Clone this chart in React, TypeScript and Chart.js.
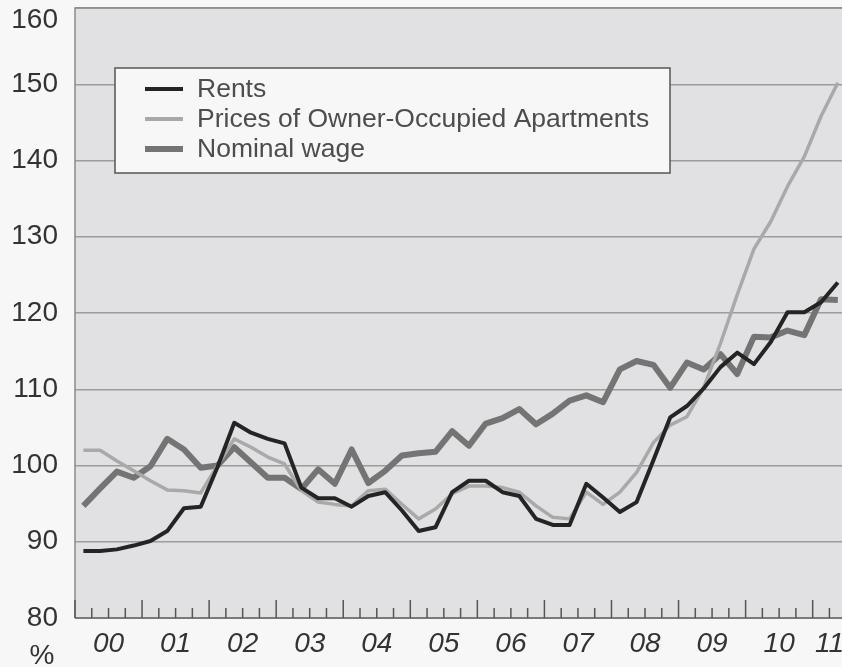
import React, { useEffect, useRef } from "react";
import { Chart, registerables } from "chart.js";

Chart.register(...registerables);

// Quarterly index values, 2000 Q1 – 2011 Q2
const yearLabels = ["00", "01", "02", "03", "04", "05", "06", "07", "08", "09", "10", "11"];

const rents = [
  88.8, 88.8, 89.0, 89.5, 90.1, 91.4, 94.4, 94.6, 99.8, 105.6,
  104.3, 103.5, 102.9, 97.1, 95.7, 95.7, 94.6, 96.0, 96.5, 94.1,
  91.4, 91.9, 96.5, 98.0, 98.0, 96.5, 96.0, 93.0, 92.2, 92.2,
  97.6, 95.8, 93.9, 95.2, 100.7, 106.3, 107.8, 110.1, 112.9, 114.8,
  113.3, 116.2, 120.1, 120.1, 121.4, 124.0,
];

const prices = [
  102.0, 102.0, 100.6, 99.3, 98.0, 96.8, 96.7, 96.4, 100.0, 103.5,
  102.4, 101.1, 100.2, 96.7, 95.2, 94.9, 94.7, 96.7, 96.9, 94.9,
  93.0, 94.3, 96.3, 97.3, 97.3, 97.1, 96.5, 94.7, 93.2, 93.0,
  96.5, 94.9, 96.5, 99.1, 103.0, 105.3, 106.4, 110.2, 116.0, 122.4,
  128.4, 132.0, 136.6, 140.5, 145.8, 150.2,
];

const wage = [
  94.7, 97.0, 99.2, 98.4, 99.9, 103.5, 102.1, 99.7, 100.0, 102.4,
  100.4, 98.4, 98.4, 96.9, 99.5, 97.6, 102.1, 97.7, 99.3, 101.3,
  101.6, 101.8, 104.5, 102.6, 105.5, 106.2, 107.4, 105.4, 106.8, 108.5,
  109.2, 108.3, 112.6, 113.7, 113.2, 110.2, 113.5, 112.6, 114.6, 112.0,
  116.9, 116.8, 117.7, 117.1, 121.8, 121.7,
];

const yTickValues = [80, 90, 100, 110, 120, 130, 140, 150, 160];

const seriesNames = ["Rents", "Prices of Owner-Occupied Apartments", "Nominal wage"];
const seriesColors = ["#242424", "#a9a9a9", "#747474"];
const seriesWidths = [4, 3.5, 6];

const FONT = '"Liberation Sans", Arial, sans-serif';

const decor = {
  id: "decor",
  beforeDraw(chart: any) {
    const { ctx, chartArea: a } = chart;
    ctx.save();
    ctx.fillStyle = "#f7f7f7";
    ctx.fillRect(0, 0, chart.width, chart.height);
    ctx.fillStyle = "#e1e1e3";
    ctx.fillRect(a.left, a.top, a.right - a.left, a.bottom - a.top);
    ctx.restore();
  },
  afterDraw(chart: any) {
    const { ctx, chartArea: a } = chart;
    const xs = chart.scales.x;
    const ys = chart.scales.y;
    const n = rents.length;
    ctx.save();

    // borders
    ctx.strokeStyle = "#8a8a8a";
    ctx.lineWidth = 1.5;
    ctx.beginPath();
    ctx.moveTo(a.left, a.bottom);
    ctx.lineTo(a.left, a.top);
    ctx.lineTo(a.right, a.top);
    ctx.stroke();
    ctx.strokeStyle = "#7a7a7a";
    ctx.lineWidth = 2;
    ctx.beginPath();
    ctx.moveTo(a.left, a.bottom);
    ctx.lineTo(a.right, a.bottom);
    ctx.stroke();

    // quarter ticks (inside)
    ctx.strokeStyle = "#555555";
    ctx.lineWidth = 1.5;
    for (let k = 0; k <= n; k++) {
      const q = k - 0.5;
      const x = xs.getPixelForValue(q);
      if (x > a.right) break;
      const major = k % 4 === 0;
      ctx.beginPath();
      ctx.moveTo(x, a.bottom);
      ctx.lineTo(x, a.bottom - (major ? 18 : 10));
      ctx.stroke();
    }

    // year labels
    ctx.fillStyle = "#333333";
    ctx.font = `italic 28px ${FONT}`;
    ctx.textAlign = "center";
    ctx.textBaseline = "middle";
    yearLabels.forEach((lab, k) => {
      const first = 4 * k;
      const last = Math.min(4 * k + 3, n - 1);
      const x = xs.getPixelForValue((first + last) / 2);
      ctx.fillText(lab, x, a.bottom + 26);
    });

    // y labels
    ctx.font = `28px ${FONT}`;
    ctx.textAlign = "right";
    yTickValues.forEach((v) => {
      const y = Math.max(ys.getPixelForValue(v), a.top + 12);
      ctx.fillText(String(v), a.left - 17, y);
    });
    ctx.textAlign = "center";
    ctx.textBaseline = "alphabetic";
    ctx.fillText("%", a.left - 33, chart.height - 3);

    // legend
    const bx = a.left + 40, by = a.top + 60, bw = 555, bh = 105;
    ctx.fillStyle = "#f7f7f7";
    ctx.fillRect(bx, by, bw, bh);
    ctx.strokeStyle = "#555555";
    ctx.lineWidth = 1.5;
    ctx.strokeRect(bx, by, bw, bh);
    ctx.font = `26.5px ${FONT}`;
    ctx.textAlign = "left";
    ctx.textBaseline = "middle";
    chart.data.datasets.forEach((ds: any, i: number) => {
      const cy = by + 21 + i * 30;
      ctx.strokeStyle = ds.borderColor;
      ctx.lineWidth = Math.max(4, ds.borderWidth);
      ctx.beginPath();
      ctx.moveTo(bx + 30, cy);
      ctx.lineTo(bx + 68, cy);
      ctx.stroke();
      ctx.fillStyle = "#4d4d4d";
      ctx.fillText(ds.label, bx + 82, cy + 1);
    });
    ctx.restore();
  },
};

export default function App() {
  const ref = useRef<HTMLCanvasElement>(null);
  useEffect(() => {
    document.body.style.margin = "0";
    const series = [rents, prices, wage];
    const chart = new Chart(ref.current as HTMLCanvasElement, {
      type: "line",
      data: {
        datasets: series.map((vals, i) => ({
          label: seriesNames[i],
          data: vals.map((v, q) => ({ x: q, y: v })),
          borderColor: seriesColors[i],
          borderWidth: seriesWidths[i],
          pointRadius: 0,
          tension: 0,
          fill: false,
          borderJoinStyle: "round" as const,
        })),
      },
      options: {
        responsive: false,
        animation: false,
        layout: { padding: { left: 75, top: 8, right: 0, bottom: 49 } },
        plugins: { legend: { display: false }, tooltip: { enabled: false } },
        scales: {
          x: {
            type: "linear",
            display: false,
            min: -0.5,
            max: 45.25,
          },
          y: {
            type: "linear",
            min: 80,
            max: 160,
            afterBuildTicks: (s: any) => {
              s.ticks = yTickValues.map((v) => ({ value: v }));
            },
            ticks: { display: false },
            grid: { color: "#9c9c9c", lineWidth: 1.5, drawTicks: false },
            border: { display: false },
          },
        },
      },
      plugins: [decor],
    });
    return () => chart.destroy();
  }, []);
  return (
    <div style={{ width: 842, height: 667 }}>
      <canvas ref={ref} width={842} height={667} />
    </div>
  );
}
